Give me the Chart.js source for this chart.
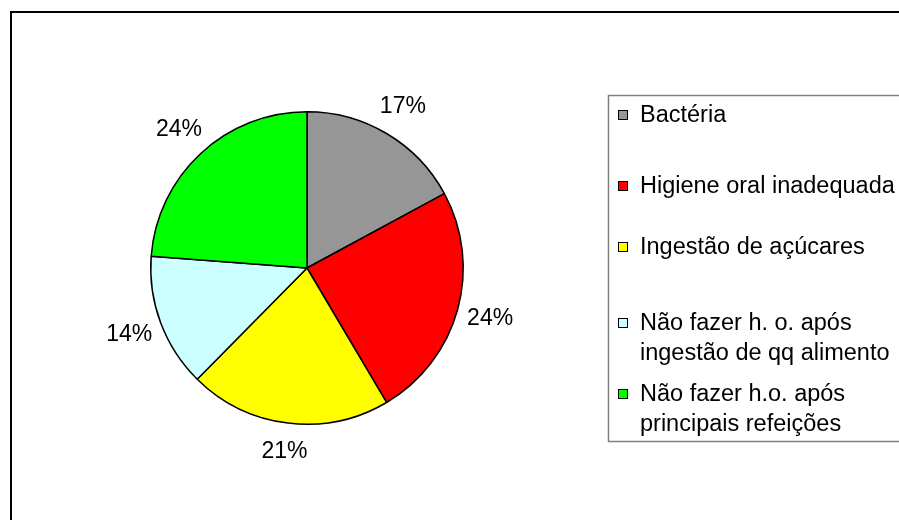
<!DOCTYPE html>
<html>
<head>
<meta charset="utf-8">
<script src="https://cdn.jsdelivr.net/npm/chart.js@4.4.0/dist/chart.umd.min.js"></script>
<style>
  body { margin: 0; background: #fff; }
  canvas { display: block; }
</style>
</head>
<body>
<canvas id="grafico" width="899" height="520"></canvas>
<script>
// dados (percentagens)
var categorias = [
    ['Bactéria'],
    ['Higiene oral inadequada'],
    ['Ingestão de açúcares'],
    ['Não fazer h. o. após', 'ingestão de qq alimento'],
    ['Não fazer h.o. após', 'principais refeições']
];
var valores = [17.1, 24.4, 20.9, 13.8, 23.8];
var cores = ['#969696', '#FF0000', '#FFFF00', '#CCFFFF', '#00FF00'];

var fonte = '"Liberation Sans", Arial, sans-serif';

// moldura externa
var moldura = {
    id: 'moldura',
    afterDraw: function (chart) {
        var ctx = chart.ctx;
        ctx.save();
        ctx.strokeStyle = '#000';
        ctx.lineWidth = 2;
        ctx.strokeRect(11, 12, 950, 560);
        ctx.restore();
    }
};

// rótulos de percentagem fora das fatias
var rotulos = {
    id: 'rotulos',
    afterDatasetsDraw: function (chart) {
        var ctx = chart.ctx;
        var meta = chart.getDatasetMeta(0);
        ctx.save();
        ctx.font = '23px ' + fonte;
        ctx.fillStyle = '#000';
        ctx.textAlign = 'center';
        ctx.textBaseline = 'middle';
        meta.data.forEach(function (arco, i) {
            var p = arco.getProps(['x', 'y', 'startAngle', 'endAngle', 'outerRadius'], true);
            var meio = (p.startAngle + p.endAngle) / 2;
            var s = Math.abs(Math.cos(meio));
            var r = p.outerRadius + 28 + 6 * s;
            var tx = p.x + Math.cos(meio) * r;
            var ty = p.y + Math.sin(meio) * r;
            ctx.fillText(Math.round(valores[i]) + '%', tx, ty);
        });
        ctx.restore();
    }
};

// legenda desenhada à mão (linhas múltiplas)
var legenda = {
    id: 'legenda',
    afterDraw: function (chart) {
        var ctx = chart.ctx;
        var linhasBase = [122, 193, 254, 330, 401];
        ctx.save();
        ctx.strokeStyle = '#808080';
        ctx.lineWidth = 1.5;
        ctx.strokeRect(608.5, 95.5, 400, 346);
        ctx.font = '23.5px ' + fonte;
        ctx.textBaseline = 'alphabetic';
        ctx.textAlign = 'left';
        categorias.forEach(function (linhas, i) {
            var y = linhasBase[i];
            ctx.fillStyle = cores[i];
            ctx.fillRect(618, y - 12, 10, 10);
            ctx.strokeStyle = '#000';
            ctx.lineWidth = 1;
            ctx.strokeRect(618.5, y - 11.5, 9, 9);
            ctx.fillStyle = '#000';
            linhas.forEach(function (txt, j) {
                ctx.fillText(txt, 640, y + j * 30);
            });
        });
        ctx.restore();
    }
};

var ctx = document.getElementById('grafico').getContext('2d');
var chart = new Chart(ctx, {
    type: 'pie',
    data: {
        labels: categorias,
        datasets: [{
            data: valores,
            backgroundColor: cores,
            borderColor: '#000',
            borderWidth: 1.5
        }]
    },
    options: {
        responsive: false,
        animation: false,
        devicePixelRatio: 1,
        layout: {
            padding: { left: 150, top: 111, right: 435, bottom: 95 }
        },
        plugins: {
            legend: { display: false },
            tooltip: { enabled: false }
        }
    },
    plugins: [moldura, rotulos, legenda]
});
</script>
</body>
</html>
